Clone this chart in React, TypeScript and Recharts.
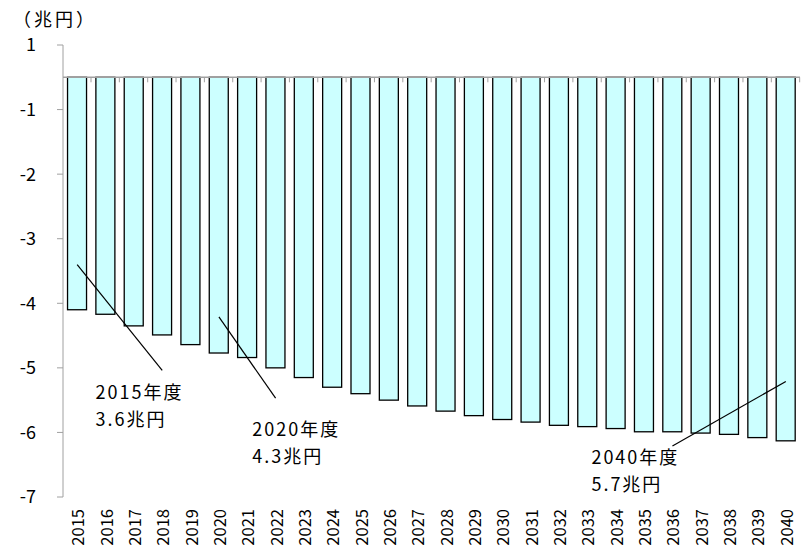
import React from 'react';
import { BarChart, Bar, XAxis, YAxis, ReferenceLine, ReferenceDot } from 'recharts';

const years = ['2015','2016','2017','2018','2019','2020','2021','2022','2023','2024','2025','2026','2027','2028','2029','2030','2031','2032','2033','2034','2035','2036','2037','2038','2039','2040'];
const values = [-3.6,-3.67,-3.85,-3.99,-4.14,-4.27,-4.34,-4.5,-4.65,-4.8,-4.9,-5.0,-5.09,-5.17,-5.24,-5.3,-5.34,-5.39,-5.41,-5.44,-5.49,-5.49,-5.51,-5.53,-5.58,-5.63];
const yTickValues = [0.5,-0.5,-1.5,-2.5,-3.5,-4.5,-5.5,-6.5];
const yTickLabels = ['1','-1','-2','-3','-4','-5','-6','-7'];
const unitLabel = '（兆円）';
const note2015 = ['2015年度','3.6兆円'];
const note2020 = ['2020年度','4.3兆円'];
const note2040 = ['2040年度','5.7兆円'];

const data = years.map((y, i) => ({ year: y, value: values[i] }));

const FONT = '"Noto Sans CJK JP", "Noto Sans", sans-serif';
const GAP = 0.16;
const AXIS = '#a0a0a0';

const BarShape = (props: any) => {
  const { x, y, width, height, fill } = props;
  const top = Math.min(y, y + height);
  const h = Math.abs(height);
  const band = width / (1 - 2 * GAP);
  const right = x - band * GAP + band;
  return (
    <g>
      <rect x={x} y={top} width={width} height={h} fill={fill} stroke="#000" strokeWidth={1.3} />
      <line x1={right} x2={right} y1={top} y2={top + 5} stroke={AXIS} strokeWidth={1} />
    </g>
  );
};

const XTick = (props: any) => {
  const { x, y, payload } = props;
  return (
    <text x={x} y={y} transform={`rotate(-90 ${x} ${y})`} textAnchor="end" dominantBaseline="central" fontSize={16.5} fontFamily={FONT} fill="#000">
      {payload.value}
    </text>
  );
};

const noteLabel = (lines: string[], dx: number) => (props: any) => {
  const vb = props.viewBox || {};
  const x = (vb.x || 0) + (vb.width || 0) / 2 + dx;
  const y = (vb.y || 0) + (vb.height || 0) / 2;
  return (
    <g fontSize={18} fontFamily={FONT} fill="#000" letterSpacing={2}>
      <text x={x} y={y} dominantBaseline="central" textAnchor="start">{lines[0]}</text>
      <text x={x} y={y + 27} dominantBaseline="central" textAnchor="start">{lines[1]}</text>
    </g>
  );
};

export default function App() {
  return (
    <div style={{ position: 'relative', width: 808, height: 553 }}>
      <style>{`body{margin:0;}`}</style>
      <div style={{ position: 'absolute', left: 13, top: 8, fontSize: 18, fontFamily: FONT, letterSpacing: 3, lineHeight: '20px', whiteSpace: 'nowrap' }}>{unitLabel}</div>
      <BarChart width={808} height={553} data={data} margin={{ top: 45, right: 8, bottom: 0, left: 0 }} barCategoryGap={`${GAP * 100}%`}>
        <XAxis dataKey="year" interval={0} axisLine={false} tickLine={false} tickSize={0} tickMargin={12} height={56} tick={<XTick />} />
        <YAxis
          type="number"
          domain={[-6.5, 0.5]}
          ticks={yTickValues}
          tickFormatter={(v: number) => yTickLabels[yTickValues.indexOf(v)]}
          width={63}
          axisLine={{ stroke: AXIS }}
          tickLine={{ stroke: AXIS }}
          tickSize={6}
          tickMargin={21}
          tick={{ fill: '#000', fontSize: 18, fontFamily: FONT }}
          allowDataOverflow
        />
        <Bar dataKey="value" fill="#CCFFFF" shape={<BarShape />} isAnimationActive={false} />
        <ReferenceLine y={0} stroke={AXIS} strokeWidth={1.5} />
        <ReferenceLine segment={[{ x: '2015', y: -2.9 }, { x: '2018', y: -4.54 }]} stroke="#000" strokeWidth={1.2} />
        <ReferenceLine segment={[{ x: '2020', y: -3.71 }, { x: '2022', y: -4.97 }]} stroke="#000" strokeWidth={1.2} />
        <ReferenceLine segment={[{ x: '2040', y: -4.71 }, { x: '2036', y: -5.71 }]} stroke="#000" strokeWidth={1.2} />
        <ReferenceDot x="2016" y={-4.86} r={0} fill="none" stroke="none" label={{ content: noteLabel(note2015, -10) }} />
        <ReferenceDot x="2021" y={-5.43} r={0} fill="none" stroke="none" label={{ content: noteLabel(note2020, 5) }} />
        <ReferenceDot x="2033" y={-5.86} r={0} fill="none" stroke="none" label={{ content: noteLabel(note2040, 4) }} />
      </BarChart>
    </div>
  );
}
